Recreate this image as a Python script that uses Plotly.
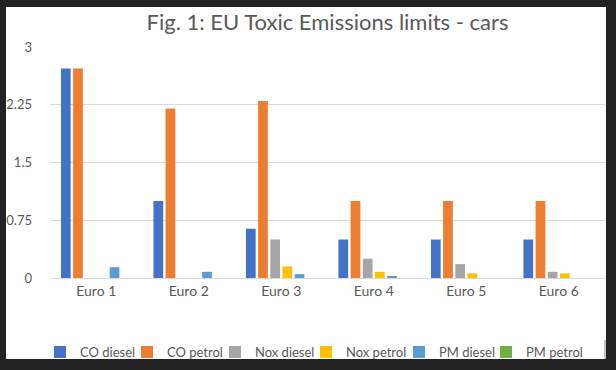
import plotly.graph_objects as go

categories = ["Euro 1", "Euro 2", "Euro 3", "Euro 4", "Euro 5", "Euro 6"]
co_diesel = [2.72, 1.0, 0.64, 0.5, 0.5, 0.5]
co_petrol = [2.72, 2.2, 2.3, 1.0, 1.0, 1.0]
nox_diesel = [0, 0, 0.5, 0.25, 0.18, 0.08]
nox_petrol = [0, 0, 0.15, 0.08, 0.06, 0.06]
pm_diesel = [0.14, 0.08, 0.05, 0.025, 0, 0]
pm_petrol = [0, 0, 0, 0, 0, 0]

series_names = ["CO diesel", "CO petrol", "Nox diesel", "Nox petrol", "PM diesel", "PM petrol"]
series_values = [co_diesel, co_petrol, nox_diesel, nox_petrol, pm_diesel, pm_petrol]
colors = ["#4472C4", "#ED7D31", "#A5A5A5", "#FFC000", "#5B9BD5", "#70AD47"]

ytick_vals = [0, 0.75, 1.5, 2.25, 3]
ytick_text = ["0", "0.75", "1.5", "2.25", "3"]

FONT = "Lato"
W, H = 616, 370
# plot area in page pixels: x 50..605, y 47..278
L, T = 50, 47
R = W - 605
B = H - 278
pw = W - L - R
ph = H - T - B

def px_x(p):
    return (p - L) / pw

def px_y(p):
    return (H - B - p) / ph

# legend entry left positions (page pixels)
legend_left = [40, 127, 215, 306, 399, 486]

fig = go.Figure()
legends = {}
for i, (name, vals, c) in enumerate(zip(series_names, series_values, colors)):
    lname = f"legend{i + 2}"
    fig.add_trace(go.Bar(name=name, x=categories, y=vals, legend=lname, showlegend=True,
                         marker=dict(color=c, line=dict(width=0))))
    legends[lname] = dict(orientation="h", x=px_x(legend_left[i]), xanchor="left",
                          y=px_y(352), yanchor="middle",
                          font=dict(family=FONT, size=13, color="#595959"),
                          bgcolor="rgba(0,0,0,0)", itemwidth=30)

fig.update_layout(
    width=W, height=H,
    showlegend=True,
    margin=dict(l=L, r=R, t=T, b=B, autoexpand=False),
    paper_bgcolor="#222222",
    plot_bgcolor="white",
    barmode="group",
    bargap=0.21,
    bargroupgap=0.2,
    font=dict(family=FONT, color="#595959", size=13),
    title=dict(text="Fig. 1: EU Toxic Emissions limits - cars", x=0.5, xref="paper",
               y=1 - 22 / H, yref="container", xanchor="center", yanchor="middle",
               font=dict(family=FONT, size=22, color="#595959")),
    xaxis=dict(showgrid=False, showline=False, ticks="", tickfont=dict(size=14, color="#595959"),
               ticklabelstandoff=3, automargin=False),
    yaxis=dict(range=[0, 3], tickvals=ytick_vals, ticktext=ytick_text, showgrid=True,
               gridcolor="#D9D9D9", gridwidth=1, zeroline=True, zerolinecolor="#D9D9D9",
               zerolinewidth=1, ticks="", tickfont=dict(size=13, color="#595959"),
               ticklabelstandoff=17, automargin=False),
    shapes=[dict(type="rect", xref="paper", yref="paper", layer="below",
                 x0=px_x(6), x1=px_x(606), y0=px_y(359), y1=px_y(7),
                 fillcolor="white", line=dict(width=0)),
            dict(type="line", xref="paper", yref="paper", layer="above",
                 x0=px_x(605), x1=px_x(605), y0=px_y(340), y1=px_y(359),
                 line=dict(color="#888888", width=1))],
    **legends,
)

fig.write_html(
    "out.html",
    config={"displayModeBar": False},
    post_script="document.body.style.margin='0';document.body.style.background='#222222';",
)
